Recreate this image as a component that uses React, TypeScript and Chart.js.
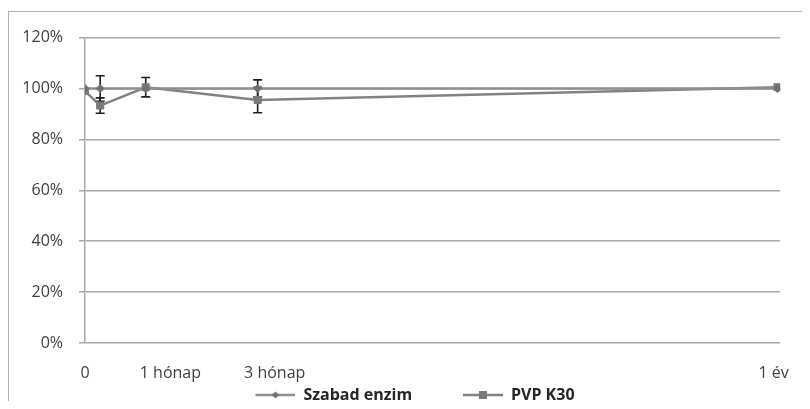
import React, { useEffect, useRef } from "react";
import { Chart, registerables } from "chart.js";

Chart.register(...registerables);

// ---- data ----
const days = [0, 8, 32, 91, 365];
const szabadEnzim = [100, 100, 100, 100, 100];
const szabadEnzimErr = [0, 5, 0, 3.4, 0];
const pvpK30 = [99, 93.3, 100.5, 95.5, 100.5];
const pvpK30Err = [0, 3, 3.8, 5, 0];
const seriesNames = ["Szabad enzim", "PVP K30"];
const xTickValues = [0, 45, 100, 363];
const xTickLabels = ["0", "1 hónap", "3 hónap", "1 év"];
const yTickStep = 20;
const yMax = 120;
const xMax = 366.4;

const FONT = "'Open Sans', 'DejaVu Sans', sans-serif";
const SZ_LINE = "#8f8f8f";
const SZ_MARK = "#707070";
const PVP_LINE = "#828282";
const PVP_MARK = "#7a7a7a";

const errorBarPlugin = {
  id: "errorBars",
  beforeDatasetsDraw(chart: any) {
    const { ctx } = chart;
    const xs = chart.scales.x;
    const ys = chart.scales.y;
    ctx.save();
    ctx.strokeStyle = "#1e1e1e";
    ctx.lineWidth = 1.6;
    chart.data.datasets.forEach((ds: any, di: number) => {
      if (!chart.isDatasetVisible(di)) return;
      const errs: number[] = ds.errorBars || [];
      ds.data.forEach((p: any, i: number) => {
        const e = errs[i];
        if (!e) return;
        const px = xs.getPixelForValue(p.x);
        const top = ys.getPixelForValue(p.y + e);
        const bot = ys.getPixelForValue(p.y - e);
        const cap = 4.5;
        ctx.beginPath();
        ctx.moveTo(px, top);
        ctx.lineTo(px, bot);
        ctx.moveTo(px - cap, top);
        ctx.lineTo(px + cap, top);
        ctx.moveTo(px - cap, bot);
        ctx.lineTo(px + cap, bot);
        ctx.stroke();
      });
    });
    ctx.restore();
  },
};

// legend sample: transparent lead-in on the left, then line + marker
const LEGEND_W = 68;
const LEGEND_LEAD = 28;

function makeLegendImage(lineColor: string, markColor: string, kind: "diamond" | "square") {
  const c = document.createElement("canvas");
  c.width = LEGEND_W;
  c.height = 14;
  const g = c.getContext("2d")!;
  g.strokeStyle = lineColor;
  g.lineWidth = 2.5;
  g.beginPath();
  g.moveTo(LEGEND_LEAD, 7);
  g.lineTo(LEGEND_W, 7);
  g.stroke();
  g.fillStyle = markColor;
  const cx = LEGEND_LEAD + (LEGEND_W - LEGEND_LEAD) / 2;
  if (kind === "square") {
    g.fillRect(cx - 4, 3, 8, 8);
  } else {
    g.beginPath();
    g.moveTo(cx, 3.5);
    g.lineTo(cx + 3.5, 7);
    g.lineTo(cx, 10.5);
    g.lineTo(cx - 3.5, 7);
    g.closePath();
    g.fill();
  }
  return c;
}

export default function App() {
  const ref = useRef<HTMLCanvasElement>(null);

  useEffect(() => {
    const canvas = ref.current!;
    const legendImages = [
      makeLegendImage(SZ_LINE, SZ_MARK, "diamond"),
      makeLegendImage(PVP_LINE, PVP_MARK, "square"),
    ];
    const chart = new Chart(canvas, {
      type: "line",
      data: {
        datasets: [
          {
            label: seriesNames[0],
            data: days.map((d, i) => ({ x: d, y: szabadEnzim[i] })),
            errorBars: szabadEnzimErr,
            borderColor: SZ_LINE,
            backgroundColor: SZ_MARK,
            borderWidth: 2.5,
            pointStyle: "rectRot",
            pointRadius: 4,
            pointBackgroundColor: SZ_MARK,
            pointBorderColor: SZ_MARK,
            pointBorderWidth: 1,
            tension: 0,
          } as any,
          {
            label: seriesNames[1],
            data: days.map((d, i) => ({ x: d, y: pvpK30[i] })),
            errorBars: pvpK30Err,
            borderColor: PVP_LINE,
            backgroundColor: PVP_MARK,
            borderWidth: 2.5,
            pointStyle: "rect",
            pointRadius: 5,
            pointBackgroundColor: PVP_MARK,
            pointBorderColor: PVP_MARK,
            pointBorderWidth: 1,
            tension: 0,
          } as any,
        ],
      },
      options: {
        responsive: false,
        animation: false,
        devicePixelRatio: 1,
        layout: { padding: { left: 0, right: 17, top: 21, bottom: 0 } },
        plugins: {
          tooltip: { enabled: false },
          legend: {
            position: "bottom",
            labels: {
              usePointStyle: true,
              pointStyleWidth: LEGEND_W,
              padding: 2,
              color: "#262626",
              font: { family: FONT, size: 16, weight: "bold" },
              generateLabels: (ch: any) => {
                const items = (Chart.defaults.plugins.legend.labels as any).generateLabels(ch);
                return items.map((it: any, i: number) => ({
                  ...it,
                  text: i === 0 ? it.text + "     " : it.text,
                  pointStyle: legendImages[i],
                  fontColor: "#262626",
                }));
              },
            },
          },
        },
        scales: {
          x: {
            type: "linear",
            min: 0,
            max: xMax,
            grid: { display: false, drawTicks: false },
            border: { display: false },
            afterBuildTicks: (scale: any) => {
              scale.ticks = xTickValues.map((v) => ({ value: v }));
            },
            afterFit: (scale: any) => {
              scale.height = 42;
            },
            ticks: {
              autoSkip: false,
              maxRotation: 0,
              padding: 21,
              color: "#404040",
              font: { family: FONT, size: 16 },
              callback: (_v: any, i: number) => xTickLabels[i],
            },
          },
          y: {
            min: 0,
            max: yMax,
            grid: { color: "#a8a8a8", lineWidth: 1.5, tickLength: 6, drawTicks: true, tickColor: "#a8a8a8" },
            border: { display: true, color: "#a8a8a8", width: 1.5 },
            afterFit: (scale: any) => {
              scale.width = 76;
            },
            ticks: {
              stepSize: yTickStep,
              padding: 16,
              color: "#404040",
              font: { family: FONT, size: 16 },
              callback: (v: any) => `${v}%`,
            },
          },
        },
      } as any,
      plugins: [errorBarPlugin],
    });
    return () => chart.destroy();
  }, []);

  return (
    <div style={{ position: "relative", width: 794, height: 393 }}>
      <div
        style={{
          position: "absolute",
          left: 0,
          top: 3,
          width: 802,
          height: 398,
          borderTop: "1px solid #b0b0b0",
          borderLeft: "1px solid #b0b0b0",
          boxSizing: "border-box",
          overflow: "hidden",
          background: "#fff",
        }}
      >
        <canvas ref={ref} width={801} height={401} style={{ display: "block" }} />
      </div>
    </div>
  );
}
